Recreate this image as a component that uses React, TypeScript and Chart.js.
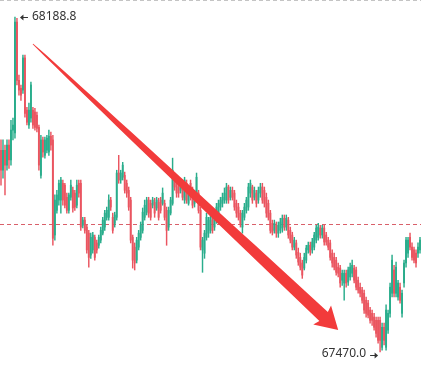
import React, { useEffect, useRef } from 'react';
import { Chart, registerables } from 'chart.js';

Chart.register(...registerables);

const opens = [
  67903, 67860, 67903, 67871, 67914, 67882, 67946, 67940, 68178, 68053,
  68036, 68032, 68101, 67989, 67957, 67972, 67989, 67985, 67978, 67952,
  67849, 67925, 67892, 67903, 67899, 67933, 67925, 67721, 67774, 67796,
  67796, 67832, 67828, 67802, 67774, 67802, 67817, 67811, 67785, 67832,
  67832, 67742, 67753, 67738, 67725, 67678, 67689, 67716, 67704, 67699,
  67710, 67725, 67738, 67759, 67759, 67796, 67759, 67746, 67759, 67854,
  67839, 67845, 67849, 67832, 67817, 67796, 67716, 67695, 67667, 67695,
  67716, 67731, 67759, 67770, 67796, 67789, 67785, 67791, 67779, 67791,
  67796, 67789, 67789, 67774, 67738, 67768, 67789, 67845, 67839, 67824,
  67817, 67832, 67796, 67832, 67789, 67832, 67817, 67789, 67802, 67811,
  67774, 67689, 67682, 67716, 67725, 67731, 67753, 67738, 67753, 67768,
  67781, 67789, 67796, 67796, 67824, 67802, 67817, 67811, 67789, 67781,
  67768, 67738, 67759, 67774, 67781, 67811, 67824, 67802, 67811, 67796,
  67811, 67824, 67817, 67802, 67789, 67768, 67746, 67731, 67742, 67725,
  67731, 67736, 67757, 67738, 67753, 67731, 67721, 67695, 67704, 67684,
  67673, 67661, 67650, 67667, 67689, 67699, 67689, 67695, 67710, 67716,
  67736, 67721, 67736, 67721, 67710, 67704, 67682, 67673, 67667, 67652,
  67650, 67624, 67618, 67639, 67620, 67631, 67639, 67650, 67646, 67624,
  67609, 67603, 67596, 67581, 67575, 67560, 67553, 67545, 67538, 67538,
  67538, 67480, 67523, 67480, 67517, 67553, 67596, 67646, 67596, 67588,
  67609, 67553, 67618, 67661, 67682, 67716, 67695, 67689, 67682, 67682, 67689,
];

const highs = [
  67925, 67925, 67914, 67925, 67925, 67967, 67972, 68188.8, 68186, 68064,
  68043, 68107, 68107, 67995, 68004, 68049, 67995, 67993, 67985, 67957,
  67935, 67931, 67931, 67935, 67946, 67942, 67935, 67807, 67817, 67839,
  67845, 67839, 67832, 67811, 67811, 67839, 67824, 67817, 67839, 67839,
  67839, 67759, 67759, 67742, 67731, 67725, 67727, 67721, 67710, 67721,
  67738, 67759, 67774, 67781, 67807, 67802, 67768, 67770, 67860, 67892,
  67860, 67877, 67856, 67839, 67824, 67802, 67721, 67704, 67716, 67731,
  67749, 67779, 67796, 67802, 67802, 67796, 67802, 67800, 67802, 67800,
  67802, 67822, 67796, 67781, 67781, 67802, 67886, 67854, 67845, 67832,
  67839, 67839, 67845, 67839, 67817, 67839, 67824, 67817, 67854, 67817,
  67781, 67716, 67731, 67768, 67759, 67768, 67759, 67768, 67789, 67796,
  67802, 67811, 67822, 67832, 67828, 67824, 67824, 67817, 67796, 67789,
  67774, 67774, 67789, 67802, 67832, 67839, 67828, 67824, 67817, 67824,
  67832, 67832, 67824, 67811, 67796, 67774, 67753, 67753, 67749, 67749,
  67757, 67764, 67764, 67764, 67759, 67738, 67727, 67716, 67710, 67693,
  67682, 67667, 67682, 67699, 67706, 67706, 67714, 67727, 67742, 67746,
  67742, 67742, 67742, 67727, 67716, 67710, 67689, 67682, 67673, 67661,
  67656, 67646, 67646, 67646, 67652, 67661, 67667, 67656, 67652, 67631,
  67618, 67609, 67603, 67588, 67581, 67566, 67560, 67553, 67545, 67545,
  67545, 67532, 67532, 67571, 67560, 67618, 67678, 67656, 67663, 67624,
  67618, 67603, 67667, 67716, 67716, 67725, 67704, 67695, 67689, 67704, 67716,
];

const lows = [
  67828, 67843, 67807, 67860, 67864, 67871, 67925, 67929, 68043, 68021,
  68010, 68025, 67974, 67957, 67950, 67963, 67950, 67946, 67942, 67860,
  67843, 67888, 67886, 67897, 67892, 67903, 67699, 67710, 67768, 67785,
  67768, 67785, 67779, 67768, 67768, 67796, 67770, 67774, 67779, 67802,
  67731, 67736, 67725, 67682, 67652, 67671, 67682, 67667, 67682, 67693,
  67704, 67721, 67731, 67753, 67753, 67774, 67725, 67738, 67753, 67832,
  67832, 67839, 67811, 67802, 67774, 67704, 67650, 67646, 67661, 67689,
  67710, 67725, 67753, 67764, 67759, 67753, 67779, 67759, 67774, 67753,
  67768, 67785, 67753, 67699, 67731, 67764, 67785, 67817, 67802, 67802,
  67811, 67796, 67789, 67789, 67785, 67796, 67779, 67781, 67796, 67768,
  67689, 67641, 67671, 67710, 67716, 67725, 67725, 67731, 67746, 67759,
  67774, 67781, 67789, 67789, 67789, 67796, 67796, 67774, 67759, 67753,
  67738, 67725, 67753, 67768, 67774, 67802, 67789, 67796, 67781, 67789,
  67802, 67789, 67781, 67759, 67753, 67725, 67721, 67725, 67716, 67716,
  67725, 67727, 67731, 67731, 67714, 67704, 67689, 67689, 67671, 67656,
  67646, 67628, 67646, 67661, 67682, 67678, 67682, 67689, 67704, 67710,
  67714, 67714, 67699, 67699, 67689, 67667, 67652, 67646, 67635, 67631,
  67609, 67613, 67581, 67609, 67613, 67624, 67631, 67618, 67603, 67596,
  67588, 67575, 67553, 67545, 67543, 67532, 67527, 67517, 67502, 67489,
  67470.0, 67474, 67485, 67474, 67510, 67545, 67588, 67588, 67588, 67581,
  67575, 67545, 67609, 67652, 67673, 67689, 67667, 67661, 67652, 67673, 67682,
];

const closes = [
  67860, 67903, 67871, 67914, 67882, 67946, 67957, 68178, 68053, 68032,
  68021, 68101, 67982, 67963, 67989, 68043, 67957, 67952, 67950, 67871,
  67925, 67899, 67925, 67929, 67933, 67914, 67714, 67796, 67807, 67832,
  67839, 67796, 67785, 67774, 67807, 67828, 67779, 67781, 67828, 67811,
  67738, 67753, 67731, 67689, 67673, 67716, 67721, 67673, 67689, 67716,
  67731, 67753, 67768, 67774, 67796, 67781, 67731, 67764, 67854, 67839,
  67854, 67871, 67817, 67811, 67781, 67710, 67667, 67661, 67710, 67725,
  67742, 67770, 67785, 67796, 67768, 67759, 67796, 67768, 67796, 67759,
  67774, 67811, 67759, 67731, 67774, 67796, 67860, 67824, 67811, 67811,
  67832, 67802, 67839, 67796, 67811, 67802, 67785, 67811, 67845, 67774,
  67695, 67710, 67725, 67759, 67753, 67759, 67731, 67759, 67781, 67789,
  67796, 67802, 67811, 67824, 67796, 67817, 67802, 67781, 67768, 67759,
  67746, 67768, 67781, 67796, 67824, 67832, 67796, 67817, 67789, 67817,
  67824, 67796, 67789, 67768, 67759, 67731, 67727, 67746, 67725, 67742,
  67749, 67757, 67738, 67757, 67721, 67710, 67695, 67710, 67678, 67663,
  67652, 67635, 67673, 67693, 67699, 67684, 67706, 67721, 67736, 67738,
  67721, 67736, 67706, 67706, 67695, 67673, 67661, 67652, 67641, 67639,
  67618, 67639, 67639, 67618, 67646, 67652, 67656, 67624, 67609, 67603,
  67596, 67581, 67560, 67553, 67549, 67538, 67538, 67523, 67510, 67495,
  67495, 67523, 67495, 67560, 67553, 67609, 67667, 67596, 67652, 67618,
  67581, 67596, 67661, 67710, 67710, 67695, 67673, 67667, 67661, 67695, 67710,
];

const highMark = [7, 68188.8];
const lowMark = [190, 67470.0];
const highText = '68188.8';
const lowText = '67470.0';
const refLevel = [67744];
const arrowFrom = [16, 68131];
const arrowTo = [169, 67517];
const yRange = [67422.8, 68225.3];

const GREEN = '#2aad8c';
const RED = '#ea5560';

function smallArrow(ctx: CanvasRenderingContext2D, xa: number, xb: number, y: number) {
  const dir = xb > xa ? 1 : -1;
  ctx.save();
  ctx.strokeStyle = '#333';
  ctx.fillStyle = '#333';
  ctx.lineWidth = 1;
  ctx.beginPath();
  ctx.moveTo(xa, y);
  ctx.lineTo(xb - dir * 2, y);
  ctx.stroke();
  ctx.beginPath();
  ctx.moveTo(xb, y);
  ctx.lineTo(xb - dir * 3.5, y - 3);
  ctx.lineTo(xb - dir * 3.5, y + 3);
  ctx.closePath();
  ctx.fill();
  ctx.restore();
}

export default function App() {
  const ref = useRef<HTMLCanvasElement>(null);
  useEffect(() => {
    if (!ref.current) return;
    const labels = closes.map((_, i) => String(i));
    const colors = closes.map((c, i) => (c >= opens[i] ? GREEN : RED));

    const overlay = {
      id: 'overlay',
      beforeDatasetsDraw(chart: any) {
        const ctx = chart.ctx as CanvasRenderingContext2D;
        const ys = chart.scales.y;
        const area = chart.chartArea;
        ctx.save();
        ctx.strokeStyle = '#c4c4c4';
        ctx.lineWidth = 1;
        ctx.setLineDash([4, 3]);
        ctx.beginPath();
        ctx.moveTo(area.left, 0.5);
        ctx.lineTo(area.right, 0.5);
        ctx.stroke();
        const ry = Math.round(ys.getPixelForValue(refLevel[0])) + 0.5;
        ctx.strokeStyle = '#d9606a';
        ctx.setLineDash([4, 3]);
        ctx.beginPath();
        ctx.moveTo(area.left, ry);
        ctx.lineTo(area.right, ry);
        ctx.stroke();
        ctx.restore();
      },
      afterDatasetsDraw(chart: any) {
        const ctx = chart.ctx as CanvasRenderingContext2D;
        const xs = chart.scales.x;
        const ys = chart.scales.y;
        const x0 = xs.getPixelForValue(arrowFrom[0]);
        const y0 = ys.getPixelForValue(arrowFrom[1]);
        const x1 = xs.getPixelForValue(arrowTo[0]);
        const y1 = ys.getPixelForValue(arrowTo[1]);
        const dx = x1 - x0;
        const dy = y1 - y0;
        const len = Math.hypot(dx, dy);
        const ux = dx / len;
        const uy = dy / len;
        const px = -uy;
        const py = ux;
        const headLen = 22;
        const headHalf = 13;
        const bx = x1 - ux * headLen;
        const by = y1 - uy * headLen;
        const shaftLen = len - headLen + 2;
        const steps = 24;
        const upper: [number, number][] = [];
        const lower: [number, number][] = [];
        for (let s = 0; s <= steps; s++) {
          const t = s / steps;
          const w = 0.4 + 5.8 * Math.pow(t, 0.75);
          const cx = x0 + ux * shaftLen * t;
          const cy = y0 + uy * shaftLen * t;
          upper.push([cx + px * w, cy + py * w]);
          lower.push([cx - px * w, cy - py * w]);
        }
        ctx.save();
        ctx.fillStyle = '#f23b3b';
        ctx.beginPath();
        ctx.moveTo(upper[0][0], upper[0][1]);
        for (const p of upper) ctx.lineTo(p[0], p[1]);
        ctx.lineTo(bx + px * headHalf, by + py * headHalf);
        ctx.lineTo(x1, y1);
        ctx.lineTo(bx - px * headHalf, by - py * headHalf);
        for (let k = lower.length - 1; k >= 0; k--) ctx.lineTo(lower[k][0], lower[k][1]);
        ctx.closePath();
        ctx.fill();
        ctx.restore();

        ctx.save();
        ctx.font = '12px "Noto Sans", "DejaVu Sans", sans-serif';
        ctx.fillStyle = '#333';
        ctx.textBaseline = 'middle';
        const hx = xs.getPixelForValue(highMark[0]);
        const hy = ys.getPixelForValue(highMark[1]);
        smallArrow(ctx, hx + 13, hx + 5, Math.round(hy) + 0.5);
        ctx.textAlign = 'left';
        ctx.fillText(highText, hx + 17, hy);
        const lx = xs.getPixelForValue(lowMark[0]);
        const ly = ys.getPixelForValue(lowMark[1]);
        smallArrow(ctx, lx - 10, lx - 2, Math.round(ly) + 3.5);
        ctx.textAlign = 'right';
        ctx.fillText(lowText, lx - 14, ly + 1.5);
        ctx.restore();
      },
    };

    const chart = new Chart(ref.current, {
      type: 'bar',
      data: {
        labels,
        datasets: [
          {
            data: opens.map((o, i) => [o, closes[i]]) as any,
            backgroundColor: colors,
            barThickness: 1.25,
            minBarLength: 1,
            grouped: false,
            borderWidth: 0,
          } as any,
          {
            data: lows.map((l, i) => [l, highs[i]]) as any,
            backgroundColor: colors,
            barThickness: 0.8,
            grouped: false,
            borderWidth: 0,
          } as any,
        ],
      },
      options: {
        animation: false,
        responsive: false,
        events: [],
        layout: { padding: 0 },
        plugins: { legend: { display: false }, tooltip: { enabled: false } },
        scales: {
          x: { display: false, offset: true },
          y: { display: false, min: yRange[0], max: yRange[1] },
        },
      },
      plugins: [overlay],
    });
    return () => chart.destroy();
  }, []);

  return (
    <div style={{ position: 'fixed', left: 0, top: 0, width: 421, height: 374, background: '#fff' }}>
      <canvas ref={ref} width={421} height={374} style={{ display: 'block' }} />
    </div>
  );
}
